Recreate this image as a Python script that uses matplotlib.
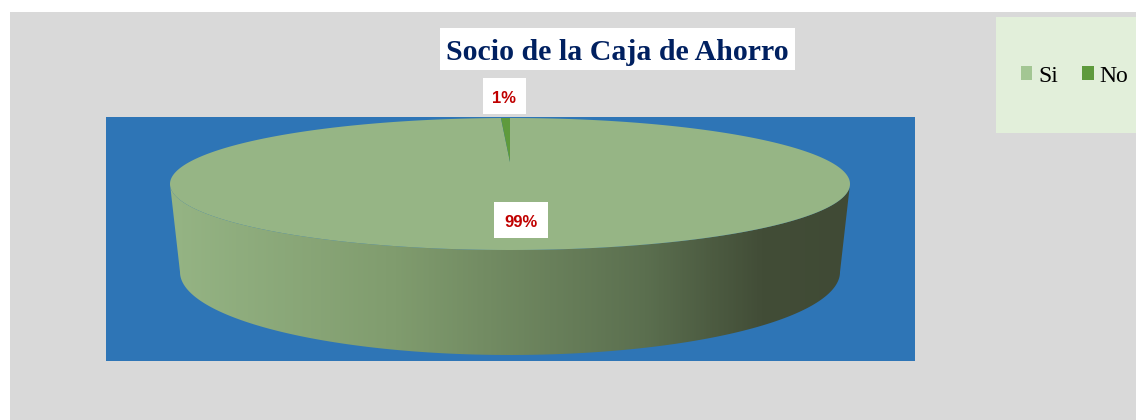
import numpy as np
import matplotlib.pyplot as plt
from matplotlib.patches import Rectangle, Polygon, Patch
from matplotlib.colors import LinearSegmentedColormap

# data (labels show the rounded shares)
labels = ['Si', 'No']
values = [99.4, 0.6]
slice_colors = ['#96B585', '#5E9A3C']
legend_colors = ['#A3C693', '#5E9A3C']
title = 'Socio de la Caja de Ahorro'

W, H = 1136, 420
fig = plt.figure(figsize=(W/100, H/100), dpi=100)
fig.patch.set_facecolor('white')
ax = fig.add_axes([0, 0, 1, 1])
ax.set_xlim(0, W)
ax.set_ylim(H, 0)
ax.axis('off')

# backgrounds
ax.add_patch(Rectangle((10, 12), W-10, H-12, facecolor='#D9D9D9', edgecolor='none', zorder=0))
ax.add_patch(Rectangle((106, 117), 809, 244, facecolor='#2E75B6', edgecolor='none', zorder=1))

# pie geometry (pixels), simple perspective: p = depth factor
cx, p = 510, 0.333
top = dict(cy=118 + 66*(1-p), A=340*np.sqrt(1-p*p), B=66*(1-p*p))
bot = dict(cy=272 - 83*p, A=330*np.sqrt(1-p*p), B=83*(1-p*p))

def proj(theta_deg, g):
    t = np.radians(theta_deg)
    u, v = np.cos(t), np.sin(t)
    s = 1.0/(1.0 + p*v)
    return cx + g['A']*u*s, g['cy'] - g['B']*v*s

# side wall (front part between the silhouette points)
t0 = np.degrees(np.arcsin(p))
th = np.linspace(180 + t0, 360 - t0, 200)
xt, yt = proj(th, top)
xb, yb = proj(th[::-1], bot)
side = Polygon(np.column_stack([np.r_[xt, xb], np.r_[yt, yb]]), closed=True,
               facecolor='none', edgecolor='none', zorder=2)
ax.add_patch(side)
grad_cmap = LinearSegmentedColormap.from_list('side', [
    (0.0, '#95B484'), (0.33, '#809C6E'), (0.70, '#5B6F4F'),
    (0.87, '#424D37'), (1.0, '#404A35')])
grad = np.linspace(0, 1, 400).reshape(1, -1)
im = ax.imshow(grad, cmap=grad_cmap, extent=[170, 851, 360, 150],
               aspect='auto', zorder=2, interpolation='bilinear')
im.set_clip_path(side)
ax.set_xlim(0, W)
ax.set_ylim(H, 0)

# top face wedges, start at 12 o'clock, clockwise
start = 90.0
angles = np.array(values) / sum(values) * 360
for ang, col in zip(angles, slice_colors):
    tt = np.linspace(start, start - ang, max(int(ang*2), 4))
    px, py = proj(tt, top)
    ax.add_patch(Polygon(np.column_stack([np.r_[cx, px], np.r_[top['cy'], py]]),
                         closed=True, facecolor=col, edgecolor='none', zorder=3))
    start -= ang

# data labels
pct_text = [f'{v:.0f}%' for v in values]
label_pos = [(521, 227), (504, 103)]
for txt, (lx, ly) in zip(pct_text, label_pos):
    ax.text(lx, ly, txt, color='#C00000', fontsize=12, fontweight='bold',
            family='Liberation Sans', ha='center', va='baseline', zorder=5)
    w = 54 if len(txt) > 2 else 43
    ax.add_patch(Rectangle((lx - w/2, ly - 25), w, 36, facecolor='white',
                           edgecolor='none', zorder=4))

# title
ax.add_patch(Rectangle((440, 28), 355, 42, facecolor='white', edgecolor='none', zorder=4))
ax.text(617.5, 60, title, color='#002060', fontsize=21.5, fontweight='bold',
        family='Liberation Serif', ha='center', va='baseline', zorder=5)

# legend
ax.add_patch(Rectangle((996, 17), 140, 116, facecolor='#E2EFDA', edgecolor='none', zorder=4))
handles = [Patch(facecolor=c, edgecolor='none', label=l) for c, l in zip(legend_colors, labels)]
leg = fig.legend(handles=handles, loc='center', bbox_to_anchor=(1074.5/W, 1-76/H), ncol=2,
                 frameon=False, prop={'family': 'Liberation Serif', 'size': 17},
                 handlelength=0.5, handleheight=0.5, handletextpad=0.25, columnspacing=1.0)

fig.savefig('out.png', dpi=100)
